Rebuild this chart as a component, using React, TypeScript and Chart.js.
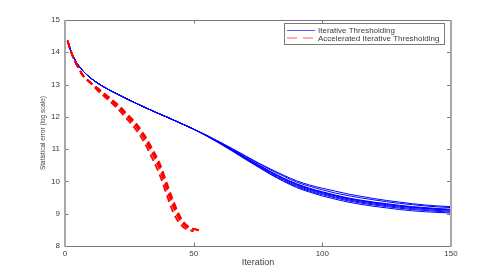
import React, { useEffect, useRef } from "react";
import { Chart, registerables } from "chart.js";

Chart.register(...registerables);

// ---- data ----
const X_MIN = 0;
const X_MAX = 150;
const Y_MIN = 8;
const Y_MAX = 15;
const X_TICKS = [0, 50, 100, 150];
const Y_TICKS = [8, 9, 10, 11, 12, 13, 14, 15];

const SERIES_NAMES = ["Iterative Thresholding", "Accelerated Iterative Thresholding"];
const X_TITLE = "Iteration";
const Y_TITLE = "Statistical error (log scale)";

// Iterative Thresholding: shared start, then separate runs
const BLUE_ITER = [
  1, 2, 3, 5, 7, 10, 15, 20, 25, 30, 35, 40, 45, 50,
  55, 60, 65, 70, 75, 80, 85, 90, 95, 100, 105, 110, 115, 120, 125, 130, 135, 140, 145, 150,
];
const BLUE_HEAD = [14.36, 14.1, 13.9, 13.62, 13.42, 13.2, 12.93, 12.72, 12.52, 12.33, 12.15, 11.98, 11.8, 11.62];
const BLUE_TAIL_A = [11.42, 11.2, 10.97, 10.73, 10.5, 10.28, 10.08, 9.9, 9.76, 9.65, 9.55, 9.46, 9.39, 9.33, 9.28, 9.23, 9.19, 9.16, 9.13, 9.11];
const BLUE_TAIL_B = [11.41, 11.19, 10.95, 10.7, 10.46, 10.23, 10.02, 9.84, 9.7, 9.59, 9.49, 9.4, 9.33, 9.27, 9.22, 9.17, 9.13, 9.1, 9.07, 9.05];
const BLUE_TAIL_C = [11.41, 11.18, 10.94, 10.69, 10.45, 10.21, 10.0, 9.81, 9.67, 9.55, 9.45, 9.36, 9.29, 9.23, 9.18, 9.13, 9.09, 9.06, 9.04, 9.02];
const BLUE_TAIL_D = [11.42, 11.21, 10.98, 10.75, 10.52, 10.3, 10.1, 9.93, 9.79, 9.68, 9.58, 9.49, 9.42, 9.36, 9.31, 9.26, 9.22, 9.19, 9.16, 9.14];
const BLUE_TAIL_E = [11.43, 11.23, 11.02, 10.8, 10.58, 10.38, 10.19, 10.02, 9.89, 9.79, 9.7, 9.61, 9.54, 9.47, 9.41, 9.36, 9.31, 9.27, 9.24, 9.22];
const BLUE_TAIL_F = [11.43, 11.22, 11.0, 10.78, 10.56, 10.35, 10.16, 9.98, 9.85, 9.74, 9.64, 9.56, 9.49, 9.43, 9.37, 9.32, 9.28, 9.24, 9.21, 9.19];
const BLUE_TAIL_G = [11.42, 11.19, 10.96, 10.72, 10.48, 10.26, 10.05, 9.87, 9.73, 9.62, 9.52, 9.43, 9.36, 9.3, 9.25, 9.2, 9.16, 9.13, 9.1, 9.08];
const BLUE_TAIL_H = [11.42, 11.2, 10.97, 10.74, 10.51, 10.29, 10.09, 9.91, 9.77, 9.66, 9.56, 9.47, 9.4, 9.34, 9.29, 9.24, 9.2, 9.17, 9.14, 9.12];
const BLUE_TAILS = [BLUE_TAIL_A, BLUE_TAIL_B, BLUE_TAIL_C, BLUE_TAIL_D, BLUE_TAIL_E, BLUE_TAIL_F, BLUE_TAIL_G, BLUE_TAIL_H];

// Accelerated Iterative Thresholding: shared start, then separate runs
const RED_ITER = [1, 2, 3, 4, 5, 7, 10, 13, 16, 20, 24, 28, 31, 34, 37, 40, 42, 44, 46, 48, 50, 52];
const RED_HEAD = [14.36, 14.1, 13.88, 13.7, 13.55, 13.28, 13.05];
const RED_TAIL_1 = [12.83, 12.63, 12.35, 12.02, 11.66, 11.3, 10.85, 10.33, 9.65, 9.22, 8.88, 8.66, 8.55, 8.5];
const RED_TAIL_2 = [12.87, 12.68, 12.42, 12.1, 11.76, 11.42, 11.0, 10.52, 9.85, 9.42, 9.03, 8.75, 8.6, 8.53, 8.5];
const RED_TAIL_3 = [12.79, 12.58, 12.29, 11.94, 11.56, 11.18, 10.7, 10.16, 9.48, 9.05, 8.76, 8.58, 8.5, 8.46];
const RED_TAIL_4 = [12.85, 12.66, 12.39, 12.06, 11.71, 11.36, 10.93, 10.43, 9.76, 9.32, 8.96, 8.71, 8.58, 8.53, 8.48];
const RED_TAILS = [RED_TAIL_1, RED_TAIL_2, RED_TAIL_3, RED_TAIL_4];

const BLUE = "#0000ff";
const RED = "#ff0000";
const FONT = "'Liberation Sans', Arial, Helvetica, sans-serif";
const TEXT_COLOR = "#3c3c3c";

function zip(xs: number[], ys: number[]) {
  const n = Math.min(xs.length, ys.length);
  const out: { x: number; y: number }[] = [];
  for (let i = 0; i < n; i++) out.push({ x: xs[i], y: ys[i] });
  return out;
}

const framePlugin = {
  id: "matlabFrame",
  afterDatasetsDraw(chart: any) {
    const { ctx, chartArea, scales } = chart;
    const { left, right, top, bottom } = chartArea;
    ctx.save();
    ctx.strokeStyle = "#7a7a7a";
    ctx.lineWidth = 1;
    ctx.beginPath();
    for (const v of Y_TICKS) {
      const y = Math.round(scales.y.getPixelForValue(v)) + 0.5;
      ctx.moveTo(left, y);
      ctx.lineTo(left + 3.5, y);
      ctx.moveTo(right, y);
      ctx.lineTo(right - 4, y);
    }
    for (const v of X_TICKS) {
      const x = Math.round(scales.x.getPixelForValue(v)) + 0.5;
      ctx.moveTo(x, bottom);
      ctx.lineTo(x, bottom - 3.5);
      ctx.moveTo(x, top);
      ctx.lineTo(x, top + 3.5);
    }
    ctx.stroke();
    ctx.beginPath();
    ctx.moveTo(left, Math.round(top) + 0.5);
    ctx.lineTo(right, Math.round(top) + 0.5);
    ctx.moveTo(left, Math.round(bottom) + 0.5);
    ctx.lineTo(right, Math.round(bottom) + 0.5);
    ctx.stroke();
    ctx.strokeStyle = "#a8a8a8";
    ctx.lineWidth = 2;
    ctx.beginPath();
    ctx.moveTo(Math.round(left), top);
    ctx.lineTo(Math.round(left), bottom + 1);
    ctx.moveTo(Math.round(right), top);
    ctx.lineTo(Math.round(right), bottom + 1);
    ctx.stroke();
    ctx.restore();
  },
};

const legendPlugin = {
  id: "boxLegend",
  afterDraw(chart: any) {
    const { ctx, chartArea } = chart;
    ctx.save();
    ctx.font = "8px " + FONT;
    const textW = Math.max(...SERIES_NAMES.map((t) => ctx.measureText(t).width));
    const sampleLen = 28;
    const boxW = Math.round(3 + sampleLen + 3 + textW + 5);
    const boxH = 21;
    const right = Math.round(chartArea.right) - 7;
    const left = right - boxW;
    const top = Math.round(chartArea.top) + 3;
    ctx.fillStyle = "#ffffff";
    ctx.fillRect(left, top, boxW, boxH);
    ctx.strokeStyle = "#7a7a7a";
    ctx.lineWidth = 1;
    ctx.strokeRect(left + 0.5, top + 0.5, boxW, boxH);
    const rows = [top + 7.5, top + 15];
    const colors = [BLUE, RED];
    const dashes = [[], [10, 6]];
    rows.forEach((ry, i) => {
      ctx.strokeStyle = colors[i];
      ctx.globalAlpha = 0.65;
      ctx.lineWidth = 1;
      ctx.setLineDash(dashes[i]);
      ctx.beginPath();
      ctx.moveTo(left + 3, ry);
      ctx.lineTo(left + 3 + sampleLen, ry);
      ctx.stroke();
      ctx.setLineDash([]);
      ctx.globalAlpha = 1;
      ctx.fillStyle = TEXT_COLOR;
      ctx.textBaseline = "middle";
      ctx.textAlign = "left";
      ctx.fillText(SERIES_NAMES[i], left + 3 + sampleLen + 3, ry + 0.5);
    });
    ctx.restore();
  },
};

export default function App() {
  const canvasRef = useRef<HTMLCanvasElement | null>(null);

  useEffect(() => {
    const canvas = canvasRef.current;
    if (!canvas) return;

    const redSets = RED_TAILS.map((tail, i) => ({
      label: i === 0 ? SERIES_NAMES[1] : SERIES_NAMES[1] + " " + (i + 1),
      data: zip(RED_ITER, RED_HEAD.concat(tail)),
      borderColor: RED,
      borderWidth: 1.8,
      borderDash: [7, 4],
      pointRadius: 0,
      fill: false,
      cubicInterpolationMode: "monotone" as const,
      order: 0,
    }));
    const blueSets = BLUE_TAILS.map((tail, i) => ({
      label: i === 0 ? SERIES_NAMES[0] : SERIES_NAMES[0] + " " + (i + 1),
      data: zip(BLUE_ITER, BLUE_HEAD.concat(tail)),
      borderColor: BLUE,
      borderWidth: 1,
      pointRadius: 0,
      fill: false,
      cubicInterpolationMode: "monotone" as const,
      order: 1,
    }));

    const chart = new Chart(canvas, {
      type: "line",
      data: { datasets: [...redSets, ...blueSets] },
      options: {
        responsive: false,
        animation: false,
        events: [],
        layout: { padding: { left: 38, top: 20, right: 47, bottom: 9 } },
        plugins: { legend: { display: false }, tooltip: { enabled: false }, title: { display: false } },
        scales: {
          x: {
            type: "linear",
            min: X_MIN,
            max: X_MAX,
            afterBuildTicks: (s: any) => {
              s.ticks = X_TICKS.map((v) => ({ value: v }));
            },
            afterFit: (s: any) => {
              s.height = 22;
            },
            grid: { display: false, drawTicks: false },
            border: { display: false },
            ticks: {
              padding: 3,
              color: TEXT_COLOR,
              font: { family: FONT, size: 8 },
              maxRotation: 0,
              autoSkip: false,
            },
            title: {
              display: true,
              text: X_TITLE,
              color: TEXT_COLOR,
              font: { family: FONT, size: 9 },
              padding: { top: 0, bottom: 0 },
            },
          },
          y: {
            type: "linear",
            min: Y_MIN,
            max: Y_MAX,
            afterBuildTicks: (s: any) => {
              s.ticks = Y_TICKS.map((v) => ({ value: v }));
            },
            afterFit: (s: any) => {
              s.width = 27;
            },
            grid: { display: false, drawTicks: false },
            border: { display: false },
            ticks: {
              padding: 5,
              color: TEXT_COLOR,
              font: { family: FONT, size: 8 },
              autoSkip: false,
            },
            title: {
              display: true,
              text: Y_TITLE,
              color: TEXT_COLOR,
              font: { family: FONT, size: 6.4 },
              padding: { top: 1, bottom: 0 },
            },
          },
        },
      },
      plugins: [framePlugin, legendPlugin],
    });

    return () => chart.destroy();
  }, []);

  return (
    <div style={{ position: "absolute", left: 0, top: 0, width: 498, height: 277, background: "#fff" }}>
      <canvas ref={canvasRef} width={498} height={277} style={{ display: "block" }} />
    </div>
  );
}
